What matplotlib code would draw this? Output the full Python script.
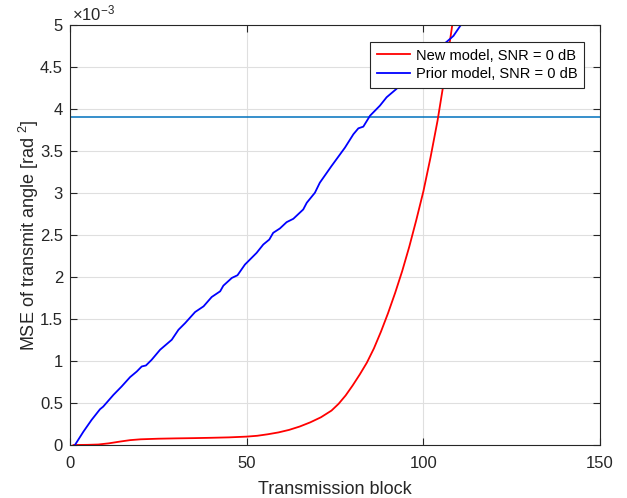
import numpy as np
import matplotlib
matplotlib.use('Agg')
from matplotlib import pyplot as plt

plt.rcParams['font.family'] = ['Liberation Sans', 'DejaVu Sans']
plt.rcParams['mathtext.default'] = 'regular'

# values in units of 1e-3 rad^2
new_x = [1, 5, 8, 11, 14, 17, 20, 25, 30, 35, 40, 45, 50, 53, 56, 59, 62, 65,
         68, 71, 74, 76, 78, 80, 82, 84, 86, 88, 90, 92, 94, 96, 98, 100, 102,
         104, 106, 108, 110]
new_mse = [0, 0.002, 0.006, 0.02, 0.04, 0.058, 0.068, 0.075, 0.079, 0.082,
           0.086, 0.091, 0.1, 0.11, 0.128, 0.15, 0.18, 0.22, 0.27, 0.33, 0.41,
           0.49, 0.59, 0.71, 0.84, 0.98, 1.15, 1.35, 1.57, 1.81, 2.07, 2.36,
           2.68, 3.02, 3.42, 3.86, 4.38, 4.95, 5.55]

prior_x = [1.4, 3.8, 6.1, 8.5, 9.4, 12.3, 14.6, 17.0, 18.9, 20.3, 21.5, 23.1,
           25.5, 28.8, 30.7, 32.6, 35.4, 37.8, 40.1, 42.5, 43.4, 45.8, 47.4,
           49.5, 52.8, 54.7, 56.4, 57.5, 59.4, 61.3, 63.2, 66.0, 67.0, 69.3,
           70.7, 74.0, 77.8, 80.2, 81.6, 83.0, 84.9, 87.7, 89.6, 91.0, 92.4,
           96, 100, 104, 106.6, 108.5, 110.6, 113]
prior_mse = [0, 0.159, 0.298, 0.426, 0.457, 0.597, 0.696, 0.808, 0.875, 0.935,
             0.947, 1.014, 1.134, 1.253, 1.372, 1.452, 1.583, 1.651, 1.762,
             1.83, 1.897, 1.989, 2.021, 2.148, 2.287, 2.387, 2.446, 2.526,
             2.578, 2.653, 2.693, 2.804, 2.884, 3.003, 3.123, 3.321, 3.54, 3.7,
             3.77, 3.79, 3.92, 4.04, 4.14, 4.19, 4.24, 4.4, 4.57, 4.72, 4.8,
             4.87, 5.0, 5.15]

threshold = 3.9

new_mse = np.array(new_mse) * 1e-3
prior_mse = np.array(prior_mse) * 1e-3

fig = plt.figure(figsize=(6.27, 4.98), dpi=100)
ax = fig.add_axes([0.1116, 0.1064, 0.8455, 0.8434])

ax.axhline(threshold * 1e-3, color='#0072BD', linewidth=1.1)
ax.plot(new_x, new_mse, color='red', linewidth=1.3, label='New model, SNR = 0 dB')
ax.plot(prior_x, prior_mse, color='blue', linewidth=1.3, label='Prior model, SNR = 0 dB')

ax.set_xlim(0, 150)
ax.set_ylim(0, 5e-3)
ax.set_xticks([0, 50, 100, 150])
yt = np.arange(0, 5.01, 0.5)
ax.set_yticks(yt * 1e-3)
ax.set_yticklabels(['%g' % v for v in yt])

ax.grid(True, color='#DFDFDF', linewidth=0.8)
ax.set_axisbelow(True)
ax.tick_params(direction='in', top=True, right=True, length=5,
               colors='#262626', labelsize=12)
ax.tick_params(axis='x', pad=8)
ax.tick_params(axis='y', pad=5)
for s in ax.spines.values():
    s.set_color('#262626')
    s.set_linewidth(0.8)

ax.set_xlabel('Transmission block', fontsize=13, color='#262626', labelpad=7)
ax.set_ylabel('MSE of transmit angle [rad $^{2}$]', fontsize=13, color='#262626',
              labelpad=-1)
ax.text(0.003, 1.004, r'$\times$10$^{-3}$', transform=ax.transAxes,
        fontsize=12, color='#262626', ha='left', va='bottom')

leg = ax.legend(loc='upper right', bbox_to_anchor=(0.970, 0.9595),
                borderaxespad=0, fontsize=10.5, fancybox=False, framealpha=1,
                edgecolor='#262626', handlelength=2.3, borderpad=0.45,
                labelspacing=0.3, handletextpad=0.4)
leg.get_frame().set_linewidth(0.8)

fig.savefig('out.png', dpi=100)
